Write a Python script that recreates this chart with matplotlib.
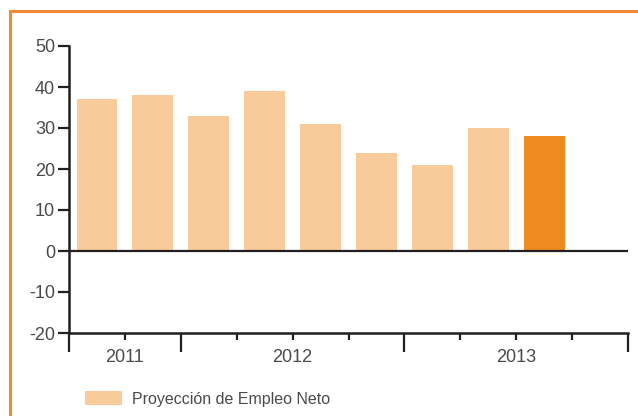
import matplotlib.pyplot as plt
from matplotlib.lines import Line2D

# Proyeccion de Empleo Neto, quarterly (Q3 2011 .. Q3 2013)
values = [37, 38, 33, 39, 31, 24, 21, 30, 28]
years = ['2011', '2012', '2013']
year_quarters = [2, 4, 4]          # quarters shown per year (slots on the axis)
legend_label = 'Proyección de Empleo Neto'

light = '#F8CB9B'
dark = '#EE8B20'
frame_orange = '#F08A33'
ink = '#231F20'
label_grey = '#4A4A4A'

plt.rcParams['font.family'] = ['Liberation Sans', 'DejaVu Sans']
plt.rcParams['axes.unicode_minus'] = False

fig = plt.figure(figsize=(6.38, 4.16), dpi=100)
ax = fig.add_axes([69 / 638, 1 - 333 / 416, (628 - 69) / 638, (333 - 46) / 416])

# bars: last one is the current quarter
xs = [i + 0.5 for i in range(len(values))]
colors = [light] * (len(values) - 1) + [dark]
bars = ax.bar(xs, values, width=0.73, color=colors, zorder=2)
bars[0].set_label(legend_label)

ax.axhline(0, color=ink, lw=1.6, zorder=3)

n_slots = sum(year_quarters)
ax.set_xlim(0, n_slots)
ax.set_ylim(-20, 50)

# spines
for s in ['top', 'right']:
    ax.spines[s].set_visible(False)
ax.spines['left'].set_linewidth(1.8)
ax.spines['bottom'].set_linewidth(1.8)
ax.spines['left'].set_color(ink)
ax.spines['bottom'].set_color(ink)

# y ticks
ax.set_yticks(range(-20, 51, 10))
ax.tick_params(axis='y', length=8, width=1.6, color=ink, labelsize=13,
               labelcolor=label_grey, pad=2)

# x ticks: long ticks at year boundaries, short ones per quarter
bounds = [0]
for q in year_quarters:
    bounds.append(bounds[-1] + q)
ax.set_xticks(bounds)
ax.set_xticklabels([])
ax.set_xticks([i for i in range(n_slots + 1) if i not in bounds], minor=True)
ax.tick_params(axis='x', which='major', length=14, width=1.6, color=ink)
ax.tick_params(axis='x', which='minor', length=5, width=1.6, color=ink)

for yr, a, b in zip(years, bounds[:-1], bounds[1:]):
    ax.text((a + b) / 2, -0.085, yr, transform=ax.get_xaxis_transform(),
            ha='center', va='center', fontsize=13, color=label_grey)

# legend
fig.legend(loc='lower left', bbox_to_anchor=(71 / 638, 1 - 421 / 416),
           frameon=False, handlelength=2.3, handleheight=0.95,
           handletextpad=0.6, labelcolor=label_grey,
           prop={'family': ['Liberation Sans', 'DejaVu Sans'], 'size': 11.5})

# open orange frame (top and left edges)
fig.add_artist(Line2D([10 / 638, 1], [1 - 11 / 416, 1 - 11 / 416],
                      transform=fig.transFigure, color=frame_orange, lw=2.2))
fig.add_artist(Line2D([10 / 638, 10 / 638], [0, 1 - 11 / 416],
                      transform=fig.transFigure, color=frame_orange, lw=2.2))

fig.savefig('out.png', dpi=100)
